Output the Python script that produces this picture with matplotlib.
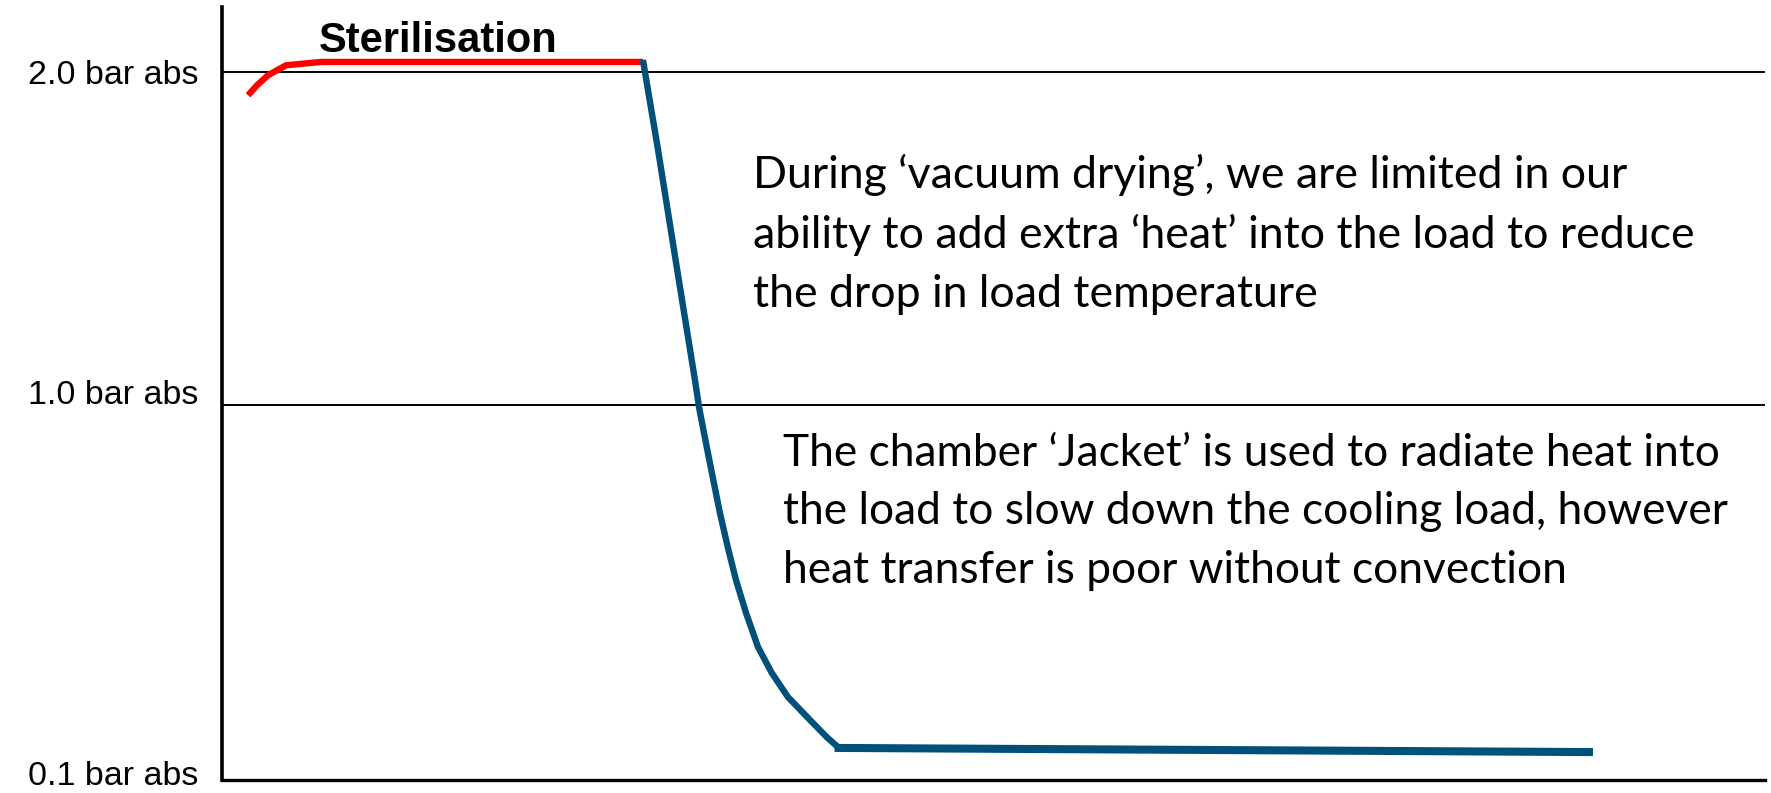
import numpy as np
import matplotlib
matplotlib.use("Agg")
import matplotlib.pyplot as plt
from matplotlib.transforms import ScaledTranslation

# schematic pressure axis: bar abs -> height on the slide (not linear)
level_bar = [-1.0, 0.1, 1.0, 2.0, 3.0]
level_h = [-458, 0, 375, 708, 1041]

tick_values = [0.1, 1.0, 2.0]
tick_labels = ["0.1 bar abs", "1.0 bar abs", "2.0 bar abs"]
grid_levels = [1.0, 2.0]

# sterilisation plateau (time in arbitrary units, pressure in bar abs)
ster_t = [1.69, 2.27, 2.98, 4.15, 6.42, 11.67, 14.53, 20.36, 27.3]
ster_p = [1.93, 1.96, 1.99, 2.02, 2.03, 2.03, 2.03, 2.03, 2.03]

# vacuum drying pull-down
dry_t = [27.28, 28.26, 29.42, 30.65, 30.93, 31.41, 31.84, 32.27, 32.77, 33.31,
         33.96, 34.74, 35.63, 36.68, 38.11, 39.19, 39.92]
dry_p = [2.036, 1.766, 1.429, 1.075, 0.992, 0.900, 0.820, 0.741, 0.660, 0.580,
         0.501, 0.419, 0.357, 0.299, 0.244, 0.203, 0.179]

# hold at deep vacuum
hold_t = [39.7, 88.85]
hold_p = [0.177, 0.167]

note_drying = ("During \u2018vacuum drying\u2019, we are limited in our\n"
               "ability to add extra \u2018heat\u2019 into the load to reduce\n"
               "the drop in load temperature")
note_jacket = ("The chamber \u2018Jacket\u2019 is used to radiate heat into\n"
               "the load to slow down the cooling load, however\n"
               "heat transfer is poor without convection")


def fwd(v):
    return np.interp(v, level_bar, level_h)


def inv(h):
    return np.interp(h, level_h, level_bar)


W, H = 1771, 793
fig = plt.figure(figsize=(W / 100, H / 100), dpi=100)
ax = fig.add_axes([222 / W, 13 / H, (1765 - 222) / W, (780 - 7) / H])
ax.set_yscale("function", functions=(fwd, inv))
ax.set_xlim(0, 100)
ax.set_ylim(0.1, 2.195)

blue = "#00507A"
ax.plot(ster_t, ster_p, color="#FF0000", lw=4.6, solid_capstyle="butt", solid_joinstyle="round")
ax.plot(dry_t, dry_p, color=blue, lw=4.6, solid_capstyle="butt", solid_joinstyle="round")
ax.plot(hold_t, hold_p, color=blue, lw=5.8, solid_capstyle="butt")
for lv in grid_levels:
    ax.axhline(lv, color="black", lw=1.4, zorder=0)

# axes: only left and bottom
for s in ["top", "right"]:
    ax.spines[s].set_visible(False)
ax.spines["left"].set_linewidth(2.6)
ax.spines["bottom"].set_linewidth(2.4)
ax.set_xticks([])
ax.set_yticks(tick_values)
ax.set_yticklabels(tick_labels, fontsize=24.5, family="Liberation Sans")
ax.tick_params(axis="y", length=0, pad=17)
# small vertical nudges of the labels as on the slide (points)
for lab, dy in zip(ax.get_yticklabels(), [5, 9, 0]):
    lab.set_transform(lab.get_transform() + ScaledTranslation(0, dy / 72, fig.dpi_scale_trans))

ax.text(6.29, 2.06, "Sterilisation", fontsize=30, fontweight="bold",
        family="Liberation Sans", va="baseline", ha="left")

# anchored on the baseline of the last line
t1 = ax.text(34.44, 1.294, note_drying, fontsize=33, family="Lato",
             va="baseline", ha="left", linespacing=1.0)
t2 = ax.text(36.38, 0.573, note_jacket, fontsize=33, family="Lato",
             va="baseline", ha="left", linespacing=1.0)

# fit the note text to the width and line pitch of the slide
fig.canvas.draw()
r = fig.canvas.get_renderer()
for t, target_w in [(t1, 942), (t2, 944)]:
    w = t.get_window_extent(r).width
    t.set_fontsize(t.get_fontsize() * target_w / w)
    _, lh, ld = r.get_text_width_height_descent("lp", t.get_fontproperties(), ismath=False)
    t.set_linespacing(50.7 / (lh - ld))

fig.savefig("out.png", dpi=100, facecolor="white")
